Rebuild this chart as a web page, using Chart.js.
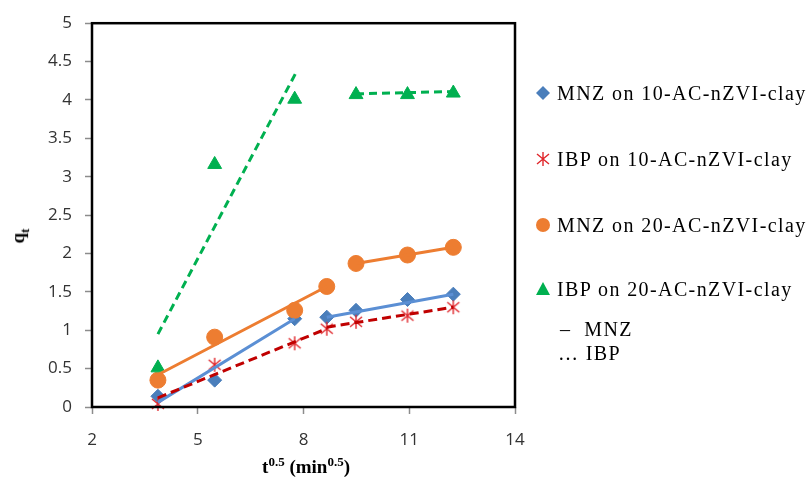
<!DOCTYPE html>
<html lang="en">
	<head>
		<meta charset="UTF-8" />
		<title>Adsorption kinetics - intraparticle diffusion</title>
		<script src="https://cdn.jsdelivr.net/npm/chart.js"></script>
		<style>
			body { margin: 0; background: #fff; }
			.wrap { position: relative; width: 808px; height: 477px; }
			.ylab {
				position: absolute; left: 20px; top: 236px;
				transform: translate(-50%, -50%) rotate(-90deg);
				font: bold 19px 'Liberation Serif', serif; white-space: nowrap;
			}
			.ylab sub { font-size: 13px; }
			.xlab {
				position: absolute; left: 306px; top: 466px;
				transform: translate(-50%, -50%);
				font: bold 19px 'Liberation Serif', serif; white-space: nowrap;
			}
			.xlab sup { font-size: 13px; }
			.legend { position: absolute; left: 0; top: 0; font: 20px 'Liberation Serif', serif; color: #000; }
			.legend div { position: absolute; white-space: nowrap; transform: translateY(-50%); letter-spacing: 1.4px; }
			.legend svg { position: absolute; }
		</style>
	</head>
	<body>
		<div class="wrap">
			<canvas id="myChart" width="808" height="477"></canvas>
			<div class="ylab">q<sub>t</sub></div>
			<div class="xlab">t<sup>0.5</sup> (min<sup>0.5</sup>)</div>
			<div class="legend" id="legend"></div>
		</div>

		<script>
			// t^0.5 values (min^0.5)
			const xValues = [3.87, 5.48, 7.75, 8.66, 9.49, 10.95, 12.25];
			const mnz10 = [0.14, 0.35, 1.15, 1.17, 1.26, 1.40, 1.47];
			const ibp10 = [0.04, 0.55, 0.83, 1.02, 1.11, 1.19, 1.30];
			const mnz20 = [0.35, 0.91, 1.26, 1.57, 1.87, 1.98, 2.08];
			const ibp20 = [0.51, 3.16, 4.01, null, 4.07, 4.07, 4.09];

			// fitted line segments (null breaks the line)
			const mnz10FitX = [3.87, 7.75, null, 8.66, 12.25];
			const mnz10FitY = [0.06, 1.15, null, 1.17, 1.47];
			const ibp10FitX = [3.87, 8.66, null, 8.66, 12.25];
			const ibp10FitY = [0.12, 1.02, null, 1.04, 1.30];
			const mnz20FitX = [3.87, 8.66, null, 9.49, 12.25];
			const mnz20FitY = [0.42, 1.57, null, 1.87, 2.08];
			const ibp20FitX = [3.87, 7.78, null, 9.49, 12.25];
			const ibp20FitY = [0.95, 4.35, null, 4.08, 4.11];

			const seriesNames = [
				'MNZ on 10-AC-nZVI-clay',
				'IBP on 10-AC-nZVI-clay',
				'MNZ on 20-AC-nZVI-clay',
				'IBP on 20-AC-nZVI-clay',
			];
			const xTicks = [2, 5, 8, 11, 14];

			const toPoints = (xs, ys) =>
				xs.map((x, i) => (x === null || ys[i] === null ? { x: NaN, y: null } : { x: x, y: ys[i] }));

			// six-arm asterisk like the Excel marker
			const starImg = document.createElement('canvas');
			starImg.width = 16;
			starImg.height = 16;
			(function () {
				const c = starImg.getContext('2d');
				c.strokeStyle = '#e0262b';
				c.lineWidth = 1.4;
				c.beginPath();
				c.moveTo(8, 1); c.lineTo(8, 15);
				c.moveTo(2, 3); c.lineTo(14, 13);
				c.moveTo(14, 3); c.lineTo(2, 13);
				c.stroke();
			})();

			const blue = '#4a7ebb';
			const blueLine = '#5b8fd4';
			const red = '#c00000';
			const orange = '#ed7d31';
			const green = '#00b050';

			const boxPlugin = {
				id: 'box',
				afterDraw(chart) {
					const a = chart.chartArea;
					const c = chart.ctx;
					c.save();
					c.strokeStyle = '#000';
					c.lineWidth = 2.5;
					c.strokeRect(a.left, a.top, a.right - a.left, a.bottom - a.top);
					c.restore();
				},
			};

			const lineDs = (xs, ys, color, dash, order) => ({
				type: 'line',
				data: toPoints(xs, ys),
				borderColor: color,
				borderWidth: 3,
				borderDash: dash,
				pointRadius: 0,
				showLine: true,
				spanGaps: false,
				fill: false,
				order: order,
			});

			const markerDs = (ys, style, color, radius, order) => ({
				data: toPoints(xValues, ys),
				pointStyle: style,
				pointRadius: radius,
				backgroundColor: color,
				borderColor: color,
				borderWidth: 1,
				showLine: false,
				clip: false,
				order: order,
			});

			const tickFont = { family: 'Open Sans', size: 17 };

			const config = {
				type: 'scatter',
				data: {
					datasets: [
						markerDs(mnz10, 'rectRot', blue, 7, 9),
						markerDs(ibp10, starImg, red, 8, 8),
						markerDs(mnz20, 'circle', orange, 8, 7),
						markerDs(ibp20, 'triangle', green, 8, 6),
						lineDs(mnz10FitX, mnz10FitY, blueLine, [], 4),
						lineDs(mnz20FitX, mnz20FitY, orange, [], 3),
						lineDs(ibp10FitX, ibp10FitY, red, [9, 5], 2),
						lineDs(ibp20FitX, ibp20FitY, green, [8, 5], 1),
					],
				},
				options: {
					responsive: false,
					animation: false,
					devicePixelRatio: 1,
					layout: { padding: { top: 20, right: 293, left: 0, bottom: 0 } },
					plugins: { legend: { display: false }, tooltip: { enabled: false } },
					scales: {
						x: {
							type: 'linear',
							min: 2,
							max: 14,
							afterBuildTicks: (s) => { s.ticks = xTicks.map((v) => ({ value: v })); },
							afterFit: (s) => { s.height = 70; },
							border: { display: false },
							grid: { drawOnChartArea: false, tickLength: 7, tickColor: '#8c8c8c', tickWidth: 1.5 },
							ticks: { padding: 16, color: '#333', font: tickFont },
						},
						y: {
							min: 0,
							max: 5,
							ticks: {
								stepSize: 0.5,
								padding: 13,
								color: '#333',
								font: tickFont,
								callback: (v) => String(Math.round(v * 10) / 10),
							},
							afterFit: (s) => { s.width = 92; },
							border: { display: false },
							grid: { drawOnChartArea: false, tickLength: 7, tickColor: '#8c8c8c', tickWidth: 1.5 },
						},
					},
				},
				plugins: [boxPlugin],
			};

			new Chart(document.getElementById('myChart'), config);

			// legend
			const legendRows = [93, 159, 225, 289];
			const markerSvg = [
				'<polygon points="7,0 14,7 7,14 0,7" fill="' + blue + '"/>',
				'<path d="M7 0V14M1 2L13 12M13 2L1 12" stroke="#e0262b" stroke-width="1.4"/>',
				'<circle cx="7" cy="7" r="7" fill="' + orange + '"/>',
				'<polygon points="7,0 14,13 0,13" fill="' + green + '"/>',
			];
			const legendEl = document.getElementById('legend');
			let html = '';
			seriesNames.forEach((name, i) => {
				const y = legendRows[i];
				html += '<svg width="14" height="14" style="left:536px;top:' + (y - 7) + 'px">' + markerSvg[i] + '</svg>';
				html += '<div style="left:557px;top:' + y + 'px">' + name + '</div>';
			});
			html += '<div style="left:560px;top:329px">\u2013&nbsp; MNZ</div>';
			html += '<div style="left:558px;top:353px">\u2026 IBP</div>';
			legendEl.innerHTML = html;
		</script>
	</body>
</html>
